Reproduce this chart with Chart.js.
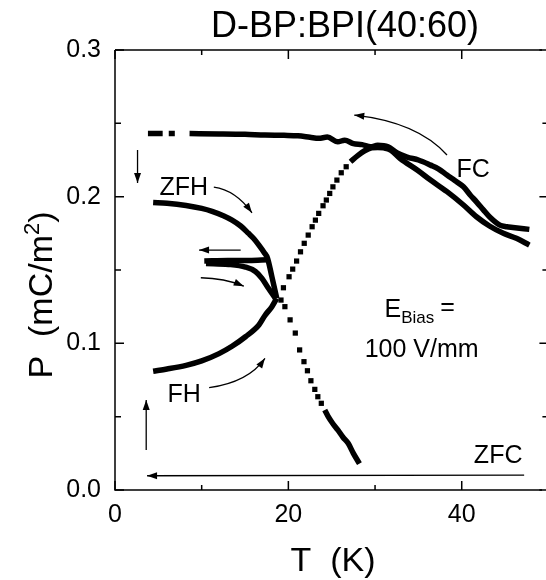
<!DOCTYPE html>
<html>
<head>
<meta charset="utf-8">
<title>D-BP:BPI(40:60)</title>
<script src="https://cdn.jsdelivr.net/npm/chart.js@4.4.0/dist/chart.umd.min.js"></script>
<style>
  html, body { margin: 0; padding: 0; background: #fff; }
  canvas { display: block; }
</style>
</head>
<body>
<canvas id="polChart" width="546" height="580"></canvas>
<script>
"use strict";

// axis ticks
const xTicks = [0, 10, 20, 30, 40];
const xLabels = [0, 20, 40];
const yTicks = [0, 0.05, 0.1, 0.15, 0.2, 0.25, 0.3];

// FC - field cooled (short dashes at low T, then the upper curve)
const fcDashT = [3.8, 5.5, 5.85, 6.2, 6.9];
const fcDashP = [0.243, 0.243, null, 0.243, 0.243];
const fcT = [8.6, 12, 15, 17.3, 19.5, 21.1, 22.5, 23.5, 24.5, 25.7, 26.5, 27.5, 28.5, 29.5, 30.3, 31.5, 32.5, 33.7, 35.0, 36.4, 37.3, 38.3, 39.2, 40.2, 41.0, 41.7, 42.5, 43.2, 44.4, 45.2, 45.9, 47.8];
const fcP = [0.243, 0.2428, 0.2425, 0.242, 0.2418, 0.2415, 0.2405, 0.2398, 0.2406, 0.2374, 0.2385, 0.2362, 0.2355, 0.234, 0.235, 0.234, 0.230, 0.227, 0.225, 0.2215, 0.219, 0.2147, 0.211, 0.2067, 0.201, 0.1965, 0.191, 0.1863, 0.1806, 0.1795, 0.179, 0.1777];

// ZFH - zero field heating
const zfhT = [4.4, 6, 8.2, 10, 11.2, 12.5, 13.5, 14.5, 15.4, 16.0, 16.6, 17.2, 17.6, 18.1, 18.66];
const zfhP = [0.196, 0.1955, 0.194, 0.192, 0.190, 0.187, 0.184, 0.180, 0.175, 0.1715, 0.167, 0.162, 0.158, 0.1454, 0.1307];
const zfhDotT = [19.15, 19.6, 20.2, 20.8, 21.3, 21.8, 22.2, 22.6, 23.05, 23.4, 23.8];
const zfhDotP = [0.1295, 0.125, 0.116, 0.107, 0.0955, 0.0875, 0.0813, 0.0745, 0.0686, 0.0636, 0.0591];
const zfhTailT = [24.2, 24.6, 25.1, 25.7, 26.3, 26.9, 27.5, 28.2];
const zfhTailP = [0.0545, 0.050, 0.0455, 0.041, 0.036, 0.0318, 0.025, 0.018];

// short branch near 0.155 (cooling back from 17 K)
const brUpT = [10.3, 13.0, 15.5, 17.6];
const brUpP = [0.1562, 0.1565, 0.1565, 0.157];
const brLoT = [10.5, 13.1, 15.05, 16.2, 16.95, 17.7, 18.5];
const brLoP = [0.1545, 0.1538, 0.152, 0.149, 0.1443, 0.1375, 0.1307];

// FH - field heating
const fhT = [4.4, 6, 8.2, 10, 12, 13.5, 15.05, 16.6, 17.3, 18.1, 18.66];
const fhP = [0.081, 0.0825, 0.085, 0.088, 0.093, 0.098, 0.1045, 0.1125, 0.119, 0.125, 0.1307];
const fhDotT = [19.43, 20.08, 20.5, 20.95, 21.4, 21.83, 22.29, 22.74, 23.12, 23.5, 24.0, 24.38, 24.77, 25.14, 25.6, 26.1, 26.67];
const fhDotP = [0.1379, 0.1454, 0.1506, 0.1561, 0.1624, 0.1682, 0.1738, 0.1795, 0.184, 0.1886, 0.1938, 0.1977, 0.2022, 0.2067, 0.2113, 0.2163, 0.2204];
const fhHumpT = [27.17, 28.0, 28.8, 29.6, 30.3, 31.0, 31.8, 32.9, 34.9, 36.4, 38.3, 40.2, 41.7, 43.2, 44.8, 46.3, 47.8];
const fhHumpP = [0.2238, 0.228, 0.2313, 0.2333, 0.2336, 0.2333, 0.2318, 0.226, 0.218, 0.2113, 0.2034, 0.1943, 0.1863, 0.180, 0.175, 0.1716, 0.167];

const FONT = '"Liberation Sans", Arial, Helvetica, sans-serif';

const pts = (xs, ys) => xs.map((x, i) => ({ x: x, y: ys[i] }));

function thick(label, xs, ys, smooth) {
  return {
    label: label,
    data: pts(xs, ys),
    showLine: true,
    borderColor: '#000',
    borderWidth: 5.5,
    pointRadius: 0,
    cubicInterpolationMode: smooth ? 'monotone' : 'default',
    tension: 0
  };
}

function dots(label, xs, ys) {
  return {
    label: label,
    data: pts(xs, ys),
    showLine: false,
    pointStyle: 'rect',
    pointRadius: 3.7,
    backgroundColor: '#000',
    borderWidth: 0
  };
}

// arrows and labels, in data units (T, P)
const arrows = [
  { from: [47.2, 0.0102], to: [3.7, 0.0097] },            // ZFC
  { from: [2.6, 0.2318], to: [2.6, 0.2093] },             // down
  { from: [3.6, 0.0273], to: [3.6, 0.0613] },             // up
  { from: [11.4, 0.2065], ctrl: [13.9, 0.2045], to: [15.8, 0.189] },  // ZFH
  { from: [14.5, 0.1636], to: [9.7, 0.1636] },            // back
  { from: [9.9, 0.1447], ctrl: [12.6, 0.1445], to: [14.86, 0.139] },
  { from: [10.86, 0.0698], ctrl: [15.4, 0.0736], to: [17.3, 0.0898] }, // FH
  { from: [38.3, 0.2284], ctrl: [34.9, 0.2509], to: [27.6, 0.2556] }   // FC
];
const notes = [
  { text: 'ZFH', at: [5.14, 0.201] },
  { text: 'FC', at: [39.4, 0.2134] },
  { text: 'FH', at: [6.06, 0.060] },
  { text: 'ZFC', at: [41.4, 0.0184] },
  { text: '100 V/mm', at: [28.8, 0.0907] }
];

function drawArrow(ctx, p0, c, p1) {
  ctx.beginPath();
  ctx.moveTo(p0.x, p0.y);
  if (c) ctx.quadraticCurveTo(c.x, c.y, p1.x, p1.y);
  else ctx.lineTo(p1.x, p1.y);
  ctx.stroke();
  const from = c || p0;
  const a = Math.atan2(p1.y - from.y, p1.x - from.x);
  const len = 10, w = 3.5;
  ctx.beginPath();
  ctx.moveTo(p1.x, p1.y);
  ctx.lineTo(p1.x - len * Math.cos(a) + w * Math.sin(a), p1.y - len * Math.sin(a) - w * Math.cos(a));
  ctx.lineTo(p1.x - len * Math.cos(a) - w * Math.sin(a), p1.y - len * Math.sin(a) + w * Math.cos(a));
  ctx.closePath();
  ctx.fill();
}

const framePlugin = {
  id: 'frame',
  afterDraw(chart) {
    const ctx = chart.ctx;
    const xs = chart.scales.x, ys = chart.scales.y;
    const a = chart.chartArea;
    const px = (p) => ({ x: xs.getPixelForValue(p[0]), y: ys.getPixelForValue(p[1]) });
    ctx.save();
    ctx.strokeStyle = '#000';
    ctx.fillStyle = '#000';
    ctx.lineWidth = 1.5;

    // frame (right side falls just outside the picture)
    const xr = xs.getPixelForValue(50);
    ctx.beginPath();
    ctx.moveTo(a.left, a.top);
    ctx.lineTo(a.left, a.bottom);
    ctx.lineTo(a.right, a.bottom);
    ctx.moveTo(a.left, a.top);
    ctx.lineTo(a.right, a.top);
    ctx.stroke();

    // inward ticks
    ctx.beginPath();
    xTicks.forEach(v => {
      const x = xs.getPixelForValue(v);
      const l = xLabels.includes(v) ? 9 : 5;
      ctx.moveTo(x, a.bottom); ctx.lineTo(x, a.bottom - l);
      ctx.moveTo(x, a.top); ctx.lineTo(x, a.top + l);
    });
    yTicks.forEach((v, i) => {
      const y = ys.getPixelForValue(v);
      const l = i % 2 === 0 ? 9 : 6;
      ctx.moveTo(a.left, y); ctx.lineTo(a.left + l, y);
      ctx.moveTo(xr, y); ctx.lineTo(xr - l, y);
    });
    ctx.stroke();

    // arrows
    ctx.lineWidth = 1.3;
    arrows.forEach(ar => drawArrow(ctx, px(ar.from), ar.ctrl ? px(ar.ctrl) : null, px(ar.to)));

    // labels
    ctx.textBaseline = 'alphabetic';
    ctx.textAlign = 'left';
    ctx.font = '25px ' + FONT;
    notes.forEach(n => {
      const p = px(n.at);
      ctx.fillText(n.text, p.x, p.y);
    });
    // E_Bias =
    const e = px([31.1, 0.118]);
    ctx.fillText('E', e.x, e.y);
    let w = ctx.measureText('E').width;
    ctx.font = '17px ' + FONT;
    ctx.fillText('Bias', e.x + w, e.y + 6);
    w += ctx.measureText('Bias').width + 6;
    ctx.font = '25px ' + FONT;
    ctx.fillText('=', e.x + w, e.y - 2);

    // title
    ctx.textAlign = 'center';
    ctx.font = '36px ' + FONT;
    ctx.fillText('D-BP:BPI(40:60)', 345, 37);

    // x title
    ctx.font = '34px ' + FONT;
    ctx.fillText('T  (K)', 333, 571);

    // y title with superscript
    ctx.save();
    ctx.translate(52, 295);
    ctx.rotate(-Math.PI / 2);
    ctx.textAlign = 'left';
    const big = '34px ' + FONT, small = '22px ' + FONT;
    ctx.font = big;
    const w1 = ctx.measureText('P  (mC/m').width;
    const w3 = ctx.measureText(')').width;
    ctx.font = small;
    const w2 = ctx.measureText('2').width;
    let x0 = -(w1 + w2 + w3) / 2;
    ctx.font = big;
    ctx.fillText('P  (mC/m', x0, 0);
    ctx.font = small;
    ctx.fillText('2', x0 + w1, -13);
    ctx.font = big;
    ctx.fillText(')', x0 + w1 + w2, 0);
    ctx.restore();

    ctx.restore();
  }
};

const ctx = document.getElementById('polChart').getContext('2d');
const polChart = new Chart(ctx, {
  type: 'scatter',
  data: {
    datasets: [
      thick('FC dashes', fcDashT, fcDashP, false),
      thick('FC', fcT, fcP, true),
      thick('ZFH', zfhT, zfhP, true),
      dots('ZFH dots', zfhDotT, zfhDotP),
      thick('ZFH tail', zfhTailT, zfhTailP, true),
      thick('branch upper', brUpT, brUpP, true),
      thick('branch lower', brLoT, brLoP, true),
      thick('FH', fhT, fhP, true),
      dots('FH dots', fhDotT, fhDotP),
      thick('FH hump', fhHumpT, fhHumpP, true)
    ]
  },
  options: {
    responsive: false,
    animation: false,
    layout: { padding: { top: 50, right: 0, bottom: 0, left: 0 } },
    plugins: {
      legend: { display: false },
      tooltip: { enabled: false },
      title: { display: false }
    },
    scales: {
      x: {
        type: 'linear',
        min: 0,
        max: 49.26,
        grid: { display: false, drawTicks: false },
        border: { display: false },
        afterBuildTicks: s => { s.ticks = xTicks.map(v => ({ value: v })); },
        afterFit: s => { s.height = 90; },
        ticks: {
          autoSkip: false,
          maxRotation: 0,
          padding: 10,
          color: '#000',
          font: { family: FONT, size: 25 },
          callback: v => xLabels.includes(v) ? String(v) : ''
        }
      },
      y: {
        type: 'linear',
        min: 0,
        max: 0.3,
        grid: { display: false, drawTicks: false },
        border: { display: false },
        afterBuildTicks: s => { s.ticks = yTicks.map(v => ({ value: v })); },
        afterFit: s => { s.width = 115; },
        ticks: {
          autoSkip: false,
          padding: 14,
          color: '#000',
          font: { family: FONT, size: 25 },
          callback: (v, i) => i % 2 === 0 ? v.toFixed(1) : ''
        }
      }
    }
  },
  plugins: [framePlugin]
});
</script>
</body>
</html>
